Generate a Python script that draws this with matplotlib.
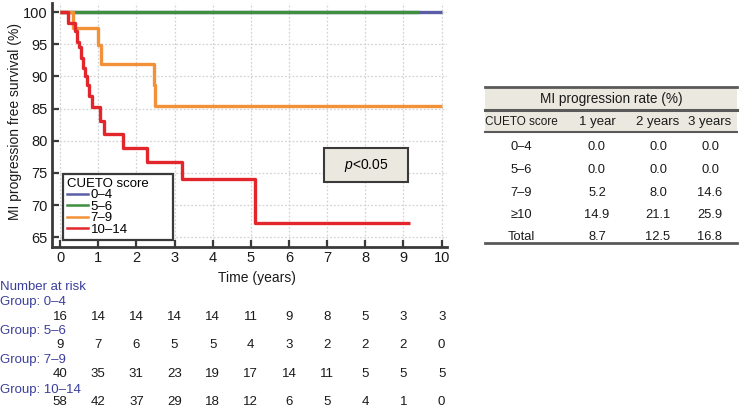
import matplotlib
matplotlib.use("Agg")
import matplotlib.pyplot as plt
import matplotlib.transforms as mtransforms
from matplotlib.lines import Line2D
from matplotlib.patches import Rectangle

plt.rcParams['font.family'] = ['Liberation Sans', 'DejaVu Sans']
plt.rcParams['mathtext.fontset'] = 'custom'
plt.rcParams['mathtext.rm'] = 'Liberation Sans'
plt.rcParams['mathtext.it'] = 'Liberation Sans:italic'

# ---- data ----
groups = ['0–4', '5–6', '7–9', '10–14']
colors = ['#5b5ea6', '#3f8f3f', '#f29138', '#e3262b']

t_g04 = [0, 10.0]
s_g04 = [100, 100]
t_g56 = [0, 9.4]
s_g56 = [100, 100]
t_g79 = [0, 0.35, 1.0, 1.07, 2.45, 2.5, 10.0]
s_g79 = [100, 97.5, 94.9, 92.0, 88.7, 85.4, 85.4]
t_g1014 = [0, 0.22, 0.39, 0.45, 0.50, 0.55, 0.61, 0.66, 0.70, 0.77, 0.83,
           1.05, 1.14, 1.66, 2.27, 3.19, 5.12, 9.17]
s_g1014 = [100, 98.3, 97.0, 95.4, 94.5, 92.8, 91.3, 90.0, 88.7, 87.0, 85.2,
           83.1, 81.0, 78.9, 76.7, 74.0, 67.2, 67.2]

risk_times = list(range(11))
risk_g04 = [16, 14, 14, 14, 14, 11, 9, 8, 5, 3, 3]
risk_g56 = [9, 7, 6, 5, 5, 4, 3, 2, 2, 2, 0]
risk_g79 = [40, 35, 31, 23, 19, 17, 14, 11, 5, 5, 5]
risk_g1014 = [58, 42, 37, 29, 18, 12, 6, 5, 4, 1, 0]

tbl_rows = ['0–4', '5–6', '7–9', '≥10', 'Total']
tbl_cols = ['CUETO score', '1 year', '2 years', '3 years']
rate_1y = ['0.0', '0.0', '5.2', '14.9', '8.7']
rate_2y = ['0.0', '0.0', '8.0', '21.1', '12.5']
rate_3y = ['0.0', '0.0', '14.6', '25.9', '16.8']

W, H = 752, 408
fig = plt.figure(figsize=(W / 100, H / 100), dpi=100)

def fx(x):
    return x / W

def fy(y):
    return 1 - y / H

ax_l, ax_r, ax_t, ax_b = 52, 447, 3, 246.7
AW, AH = ax_r - ax_l, ax_b - ax_t
ax = fig.add_axes([fx(ax_l), fy(ax_b), AW / W, AH / H])
ax.set_xlim(-0.21, 10.14)
ax.set_ylim(63.54, 101.4)

ax.set_xticks(range(0, 11))
ax.set_yticks(range(65, 101, 5))
ax.grid(True, color='#d4d4d4', linestyle=(0, (1.5, 1.5)), linewidth=0.9)
ax.set_axisbelow(True)
for s in ['top', 'right']:
    ax.spines[s].set_visible(False)
for s in ['left', 'bottom']:
    ax.spines[s].set_color('#3a3a3a')
    ax.spines[s].set_linewidth(2.0)
ax.tick_params(direction='in', length=5, width=1.6, color='#3a3a3a',
               labelsize=10.5, labelcolor='#1a1a1a', pad=3)

series = [(t_g04, s_g04), (t_g56, s_g56), (t_g79, s_g79), (t_g1014, s_g1014)]
handles = []
for (t, s), c, g in zip(series, colors, groups):
    ax.step(t, s, where='post', color=c, linewidth=2.4, solid_capstyle='butt')
    handles.append(Line2D([], [], color=c, linewidth=1.8))

leg = ax.legend(handles, groups, title='CUETO score', loc='lower left',
                bbox_to_anchor=((63 - ax_l) / AW, (ax_b - 240) / AH, 110 / AW, 0.2),
                mode='expand', borderaxespad=0,
                fontsize=9.5, title_fontsize=9.5, handlelength=1.6,
                handletextpad=0.2, labelspacing=-0.05, borderpad=0.3,
                fancybox=False, framealpha=1, alignment='left')
leg.get_frame().set_edgecolor('#3a3a3a')
leg.get_frame().set_linewidth(1.6)
leg.set_zorder(5)

ax.set_ylabel('MI progression free survival (%)', fontsize=10, color='#1a1a1a')
ax.yaxis.set_label_coords(-0.075, (ax_b - 122) / AH)
ax.set_xlabel('Time (years)', fontsize=10, color='#1a1a1a')
ax.xaxis.set_label_coords((257 - ax_l) / AW, -0.1)

# p-value box
rect = Rectangle(((324 - ax_l) / AW, (ax_b - 181.7) / AH),
                 84 / AW, 33.4 / AH, transform=ax.transAxes,
                 facecolor='#ebe8e0', edgecolor='#3a3a3a', linewidth=1.5, zorder=6)
ax.add_patch(rect)
ax.text((366 - ax_l) / AW, (ax_b - 165) / AH, '$p$<0.05',
        transform=ax.transAxes, ha='center', va='center', fontsize=10, zorder=7)

# number at risk
blue = '#3b3f9c'
fs_risk = 9.5
fig.text(fx(0), fy(287), 'Number at risk', color=blue, fontsize=fs_risk, va='center')
trans = mtransforms.blended_transform_factory(ax.transData, fig.transFigure)
risk = [risk_g04, risk_g56, risk_g79, risk_g1014]
lab_y = [302.5, 331, 360, 389.5]
num_y = [317, 345.5, 374, 402]
for g, r, ly, ny in zip(groups, risk, lab_y, num_y):
    fig.text(fx(0), fy(ly), 'Group: ' + g, color=blue, fontsize=fs_risk, va='center')
    for t, n in zip(risk_times, r):
        fig.text(t, fy(ny), str(n), transform=trans, ha='center', va='center',
                 fontsize=fs_risk, color='#1a1a1a')

# table on right
tl, tr = 485, 737
fig.add_artist(Rectangle((fx(tl), fy(131.7)), fx(tr - tl), (131.7 - 86.7) / H,
                         transform=fig.transFigure, facecolor='#ebe8df',
                         edgecolor='none', zorder=0))
for yy, lw in [(86.7, 2.0), (110, 2.2), (131.7, 1.5), (243.3, 2.0)]:
    fig.add_artist(Line2D([fx(tl), fx(tr)], [fy(yy), fy(yy)], color='#5a5a5a',
                          linewidth=lw, transform=fig.transFigure))
fig.text(fx((tl + tr) / 2), fy(98.5), 'MI progression rate (%)', ha='center',
         va='center', fontsize=9.8, color='#1a1a1a')
col_x = [521, 597, 658, 710]
fig.text(fx(tl), fy(122.3), tbl_cols[0], ha='left', va='center', fontsize=8.5, color='#1a1a1a')
for cx, c in zip(col_x[1:], tbl_cols[1:]):
    fig.text(fx(cx), fy(122.3), c, ha='center', va='center', fontsize=9.5, color='#1a1a1a')
row_y = [147.3, 170, 192.7, 215.3, 236.7]
for ry, rname, a, b, c in zip(row_y, tbl_rows, rate_1y, rate_2y, rate_3y):
    for cx, v in zip(col_x, [rname, a, b, c]):
        fig.text(fx(cx), fy(ry), v, ha='center', va='center', fontsize=9.3, color='#1a1a1a')

fig.savefig('out.png', dpi=100)
